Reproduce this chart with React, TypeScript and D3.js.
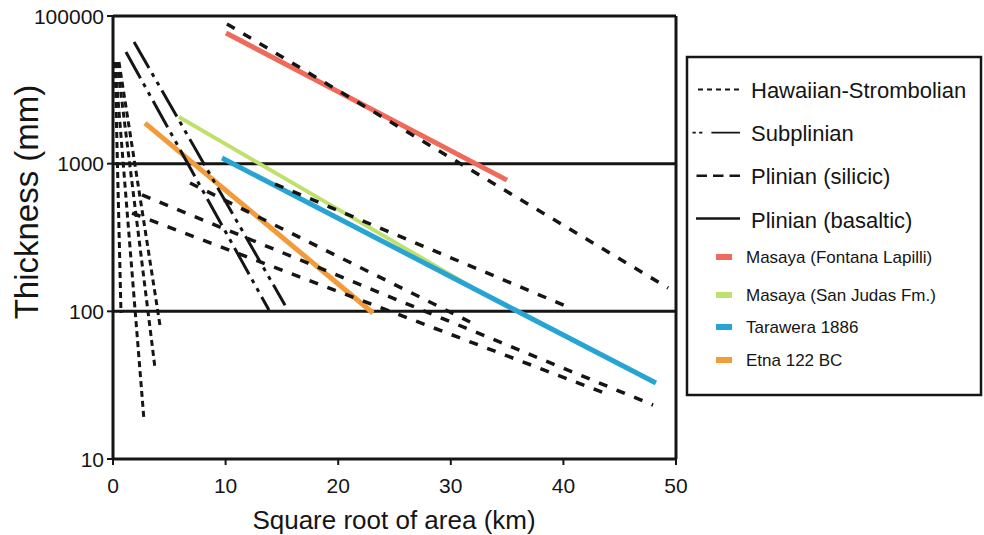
import React from "react";
import * as d3 from "d3";

// ---- axis data ----
const xTickValues = [0, 10, 20, 30, 40, 50];
const yTickValues = [10, 100, 1000, 10000];
const yTickLabels = ["10", "100", "1000", "100000"];
const gridValues = [1000, 100];

// ---- series (segment endpoints: [x (km), thickness (mm)]) ----
const hawaiianStrombolian: [number, number][][] = [
  [[0.18, 4875], [0.71, 97.5]],
  [[0.18, 4875], [2.75, 18.4]],
  [[0.36, 4875], [3.73, 41.3]],
  [[0.53, 4875], [4.17, 80.7]],
];
const subplinian: [number, number][][] = [
  [[1.15, 5700], [13.85, 102]],
  [[1.87, 6670], [15.28, 110]],
];
const plinianSilicic: [number, number][][] = [
  [[10.12, 8830], [49.3, 144]],
  [[14.39, 728], [40.05, 110]],
  [[2.58, 614], [47.96, 23.2]],
  [[1.69, 463], [44.14, 27.1]],
  [[6.84, 740], [31.71, 84.7]],
];
const masayaFontana: [number, number][] = [[10.04, 7670], [34.99, 774]];
const masayaSanJudas: [number, number][] = [[5.86, 2070], [31.88, 146]];
const tarawera: [number, number][] = [[9.68, 1091], [48.22, 32.7]];
const etna: [number, number][] = [[2.84, 1884], [23.09, 97.5]];

const styleNames = ["Hawaiian-Strombolian", "Subplinian", "Plinian (silicic)", "Plinian (basaltic)"];
const depositNames = ["Masaya (Fontana Lapilli)", "Masaya (San Judas Fm.)", "Tarawera 1886", "Etna 122 BC"];
const depositColors = ["#ef6a5a", "#bfe06a", "#28a4d4", "#f29b3a"];

const FONT = "'Liberation Sans', Arial, Helvetica, sans-serif";
const INK = "#151515";

export default function App() {
  const x = d3.scaleLinear().domain([0, 50]).range([113, 676]);
  const y = d3.scaleLog().domain([10, 10000]).range([459, 16]);
  const line = d3
    .line<[number, number]>()
    .x((d) => x(d[0]))
    .y((d) => y(d[1]));

  const coloured = [
    { data: masayaFontana, color: depositColors[0], w: 5 },
    { data: masayaSanJudas, color: depositColors[1], w: 3.8 },
    { data: tarawera, color: depositColors[2], w: 5 },
    { data: etna, color: depositColors[3], w: 5 },
  ];

  const legendLineY = [89.5, 132.7, 175.7, 218.5];
  const legendTextY = [98, 141, 184, 228];
  const depositY = [257, 295, 327, 360];

  return (
    <svg
      width={984}
      height={535}
      style={{ position: "absolute", left: 0, top: 0, background: "#fff" }}
      fontFamily={FONT}
    >
      {/* grid lines */}
      {gridValues.map((v) => (
        <line key={v} x1={x(0)} x2={x(50)} y1={y(v)} y2={y(v)} stroke={INK} strokeWidth={3} />
      ))}

      {/* coloured deposits */}
      {coloured.map((c, i) => (
        <path key={i} d={line(c.data) || ""} stroke={c.color} strokeWidth={c.w} fill="none" />
      ))}

      {/* black lines */}
      {hawaiianStrombolian.map((d, i) => (
        <path key={"h" + i} d={line(d) || ""} stroke={INK} strokeWidth={3} strokeDasharray="6 4" fill="none" />
      ))}
      {subplinian.map((d, i) => (
        <path key={"s" + i} d={line(d) || ""} stroke={INK} strokeWidth={3} strokeDasharray="30 6 4 6 4 6" fill="none" />
      ))}
      {plinianSilicic.map((d, i) => (
        <path key={"p" + i} d={line(d) || ""} stroke={INK} strokeWidth={3.5} strokeDasharray="9 10" fill="none" />
      ))}

      {/* frame */}
      <line x1={x(0)} x2={x(50)} y1={y(10000)} y2={y(10000)} stroke={INK} strokeWidth={3} />
      <line x1={x(50)} x2={x(50)} y1={y(10000)} y2={y(10)} stroke={INK} strokeWidth={3} />
      <line x1={x(0)} x2={x(50)} y1={y(10)} y2={y(10)} stroke={INK} strokeWidth={3} />
      <line x1={x(0)} x2={x(0)} y1={y(10000)} y2={y(10)} stroke={INK} strokeWidth={3} />

      {/* y ticks */}
      {yTickValues.map((v, i) => (
        <g key={v}>
          <line x1={x(0) - 6} x2={x(0)} y1={y(v)} y2={y(v)} stroke={INK} strokeWidth={2} />
          <text x={104} y={y(v) + 7.5} fontSize={21} textAnchor="end" fill={INK}>
            {yTickLabels[i]}
          </text>
        </g>
      ))}
      {/* x ticks */}
      {xTickValues.map((v) => (
        <g key={v}>
          <line x1={x(v)} x2={x(v)} y1={y(10)} y2={y(10) + 6} stroke={INK} strokeWidth={2} />
          <text x={x(v)} y={493} fontSize={21} textAnchor="middle" fill={INK}>
            {v}
          </text>
        </g>
      ))}

      {/* axis titles */}
      <text x={394} y={529} fontSize={26} textAnchor="middle" fill={INK}>
        Square root of area (km)
      </text>
      <text
        transform={`translate(38,202) rotate(-90)`}
        fontSize={33}
        textAnchor="middle"
        fill={INK}
      >
        Thickness (mm)
      </text>

      {/* legend */}
      <rect x={687} y={57} width={294} height={338} fill="#fff" stroke={INK} strokeWidth={2.5} />
      <line x1={698} x2={740} y1={legendLineY[0]} y2={legendLineY[0]} stroke={INK} strokeWidth={2} strokeDasharray="5 4" />
      <line x1={692.5} x2={740} y1={legendLineY[1]} y2={legendLineY[1]} stroke={INK} strokeWidth={1.8} strokeDasharray="3.3 3.3 3.3 9 30 0" />
      <line x1={696.5} x2={740} y1={legendLineY[2]} y2={legendLineY[2]} stroke={INK} strokeWidth={2.5} strokeDasharray="10.5 6" />
      <line x1={696} x2={740} y1={legendLineY[3]} y2={legendLineY[3]} stroke={INK} strokeWidth={2.5} />
      {styleNames.map((n, i) => (
        <text key={n} x={751} y={legendTextY[i]} fontSize={22} fill={INK}>
          {n}
        </text>
      ))}
      {depositNames.map((n, i) => (
        <g key={n}>
          <rect x={716} y={depositY[i] - 3} width={16} height={6} fill={depositColors[i]} />
          <text x={746} y={depositY[i] + 6} fontSize={17} fill={INK}>
            {n}
          </text>
        </g>
      ))}
    </svg>
  );
}
